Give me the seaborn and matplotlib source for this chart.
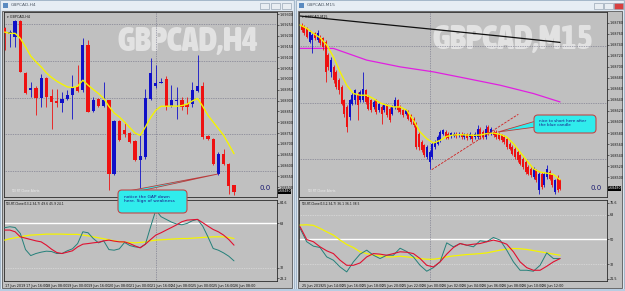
import numpy as np
import pandas as pd
import matplotlib
matplotlib.use("Agg")
import matplotlib.pyplot as plt
import seaborn as sns
from matplotlib.patches import Rectangle, FancyBboxPatch, Polygon
from matplotlib import font_manager as fm

sns.set_theme(style="white")
plt.rcParams['font.family'] = ['DejaVu Sans']

# ---------------- data ----------------
# Left window: GBPCAD H4 candles (chart points)
h4_open  = [171.7,165.7,163.3,179.3,127.3,110.0,112.7,102.7,121.7,104.0,99.0,97.3,101.0,105.0,113.3,110.0,155.0,89.3,101.7,94.0,
            100.0,26.7,79.3,70.0,67.3,59.3,40.7,43.3,101.7,114.0,117.0,121.0,94.0,99.3,100.0,96.0,96.7,109.3,114.0,64.0,
            61.3,26.7,46.0,36.7,15.0]
h4_close = [166.7,167.7,179.3,128.3,107.3,112.7,102.7,121.7,103.3,98.3,97.3,101.3,105.0,112.7,109.3,155.0,88.3,100.7,94.0,100.7,
            26.7,79.3,60.0,66.7,58.3,40.0,44.0,102.3,126.7,117.3,118.3,94.0,100.7,100.3,93.3,93.3,110.7,114.0,63.3,61.7,
            36.0,46.0,36.7,14.0,8.3]
h4_high  = [173.3,170.0,180.0,180.0,128.3,118.3,114.0,126.0,122.7,111.7,111.7,108.3,110.0,125.0,135.0,161.7,160.0,103.3,102.7,118.3,
            100.7,80.0,80.0,78.3,68.3,60.0,66.7,111.7,141.7,135.0,121.7,124.0,115.0,113.3,103.3,103.3,118.3,145.0,118.3,65.0,
            62.0,48.3,51.7,37.3,15.7]
h4_low   = [150.0,153.3,153.3,128.3,106.7,103.3,85.0,93.3,93.3,71.7,93.3,88.3,100.0,81.7,108.3,108.3,88.3,88.3,93.3,93.3,
            10.0,25.0,59.3,63.3,57.3,39.3,5.0,41.7,100.0,112.7,116.7,90.0,93.3,81.7,90.0,86.7,93.3,108.3,61.7,60.7,
            35.0,25.0,35.0,6.7,5.0]
h4_ma    = [168.0,166.7,166.7,161.7,153.3,144.0,138.3,133.3,127.3,122.7,119.0,116.0,113.3,112.7,114.0,120.0,115.0,110.7,106.7,101.7,
            94.0,87.3,83.3,78.3,72.7,67.3,65.0,73.3,82.7,90.0,94.0,94.0,94.3,94.0,94.7,96.0,99.3,101.7,94.0,85.0,
            78.3,71.7,65.0,56.0,46.7]
h4_tdi_fast = [64.4,65.2,64.6,59.7,46.6,41.7,43.4,44.5,45.3,45.0,43.4,43.4,45.6,47.2,51.5,61.1,60.3,55.6,52.1,53.7,
               46.6,46.1,47.2,52.4,49.9,48.8,48.3,51.0,65.2,78.8,73.4,71.2,69.0,67.4,66.8,67.9,70.1,71.2,65.7,57.0,
               47.5,46.1,43.9,41.2,37.4]
h4_tdi_slow = [62.5,62.5,61.1,57.0,55.9,54.8,53.7,52.9,50.2,46.9,44.2,43.4,44.5,45.6,48.8,51.0,51.5,52.1,52.6,53.7,
               54.3,53.5,52.9,52.9,51.5,49.6,48.0,51.0,54.8,58.4,60.3,62.5,64.6,66.8,69.3,70.6,70.9,71.2,68.5,65.7,
               63.0,61.1,58.4,54.8,50.2]
h4_tdi_base = [54.3,55.4,56.2,57.0,57.8,58.4,58.6,58.9,59.2,59.2,59.2,59.2,59.0,59.0,59.0,58.4,57.8,57.0,56.2,55.4,
               54.6,53.7,53.2,52.6,52.4,52.1,52.4,52.9,53.7,54.3,54.6,54.8,55.1,55.4,55.6,55.6,55.9,56.2,56.5,56.7,
               57.0,57.0,57.0,56.5,55.6]
h4_price_labels = ["1.69300","1.69250","1.69200","1.69150","1.69100","1.69050","1.69000","1.68950","1.68900",
                   "1.68850","1.68800","1.68750","1.68700","1.68650","1.68600","1.68550","1.68500"]
h4_dates = ["17 Jun 2019","17 Jun 16:00","18 Jun 08:00","19 Jun 00:00","19 Jun 16:00","20 Jun 08:00",
            "21 Jun 00:00","21 Jun 16:00","24 Jun 08:00","25 Jun 00:00","25 Jun 16:00","26 Jun 08:00"]

# Right window: GBPCAD M15 candles (chart points)
m15_open  = [175.0,173.3,171.7,158.3,160.0,166.7,160.0,163.3,161.7,158.3,145.0,128.3,133.3,128.3,120.0,113.3,100.0,93.3,83.3,96.7,
             100.0,106.7,100.0,100.0,110.0,103.3,100.0,93.3,100.0,90.0,93.3,90.0,95.0,91.7,86.7,93.3,100.0,93.3,90.0,86.7,
             88.3,85.0,81.7,76.7,66.7,58.3,55.0,43.3,38.3,43.3,53.3,56.7,60.0,66.7,68.3,66.7,64.0,64.7,66.7,65.0,
             66.7,63.3,66.0,63.3,65.0,63.3,63.3,71.7,68.3,63.3,73.3,66.7,68.3,68.3,66.7,65.0,63.3,61.7,56.7,53.3,
             51.7,48.3,45.0,41.7,38.3,33.3,31.7,23.3,30.0,10.0,26.7,15.0,23.3,28.3,25.0,8.3,23.3,20.0]
m15_close = [170.0,166.7,163.3,168.3,165.0,161.7,166.7,156.7,153.3,128.3,133.3,140.0,120.0,113.3,110.0,96.7,86.7,73.3,100.0,105.0,
             110.0,95.0,108.3,111.7,98.3,91.7,90.0,98.3,88.3,96.7,86.7,95.0,85.0,80.0,93.3,100.0,90.0,88.3,85.0,90.0,
             81.7,78.3,75.0,53.3,53.3,50.0,45.0,53.3,48.3,56.7,58.3,63.3,68.3,70.0,63.3,62.7,67.3,66.7,64.0,66.7,
             63.3,66.0,62.7,66.7,61.7,66.7,71.7,63.3,63.3,71.7,66.7,71.7,65.0,63.3,61.7,60.0,58.3,53.3,51.7,46.7,
             43.3,40.0,36.7,33.3,28.3,26.7,25.0,31.7,20.0,26.7,13.3,26.7,31.7,21.7,15.0,20.0,10.0,11.7]
m15_high  = [177.3,175.0,173.3,170.0,166.7,168.3,170.0,165.0,163.3,160.0,146.7,143.3,135.0,130.0,121.7,115.0,101.7,95.0,101.7,108.3,
             111.7,108.3,110.0,128.3,111.7,105.0,101.7,100.0,101.7,98.3,95.0,96.7,96.7,93.3,95.0,103.3,101.7,95.0,91.7,91.7,
             90.0,86.7,83.3,78.3,68.3,60.0,56.7,55.0,50.0,58.3,60.0,65.0,70.0,71.7,70.0,68.3,68.3,68.3,68.3,68.3,
             68.3,67.3,67.3,68.3,66.7,68.3,75.0,73.3,70.0,75.0,75.0,73.3,70.0,70.0,68.3,66.7,65.0,63.3,58.3,55.0,
             53.3,50.0,46.7,43.3,40.0,35.0,33.3,33.3,31.7,28.3,28.3,28.3,35.0,30.0,26.7,21.7,25.0,21.7]
m15_low   = [168.3,165.0,161.7,156.7,146.7,160.0,158.3,155.0,150.0,118.3,130.0,123.3,116.7,111.7,106.7,95.0,83.3,68.3,80.0,95.0,
             96.7,80.0,98.3,98.3,96.7,90.0,88.3,91.7,86.7,88.3,76.7,88.3,83.3,78.3,85.0,91.7,88.3,86.7,83.3,85.0,
             80.0,76.7,73.3,51.7,50.0,48.3,43.3,41.7,31.7,41.7,51.7,55.0,58.3,65.0,61.7,61.7,62.7,63.3,62.7,63.3,
             61.7,61.7,60.0,61.7,58.3,61.7,61.7,61.7,61.7,61.7,65.0,65.0,63.3,61.7,60.0,58.3,56.7,51.7,50.0,45.0,
             41.7,38.3,35.0,31.7,26.7,25.0,23.3,21.7,18.3,6.7,11.7,13.3,21.7,20.0,13.3,6.7,8.3,10.0]
# sampled every 2.5 bars
m15_ma = [175.0,171.7,166.7,162.3,155.0,143.3,128.3,115.0,106.7,105.0,105.0,101.7,97.3,95.0,93.3,93.3,90.0,80.0,68.3,61.7,
          57.3,60.0,64.0,65.3,65.7,65.3,65.0,65.3,66.7,67.3,66.0,63.3,56.7,48.3,40.0,31.7,28.3,27.3,26.0,20.7]
m15_tdi_fast = [58.0,48.3,45.1,44.1,37.3,34.9,30.0,26.4,33.7,39.3,42.2,38.5,36.1,38.5,38.5,43.6,41.2,37.3,31.2,26.9,
                29.5,33.7,47.5,44.6,47.0,45.8,44.6,49.0,48.3,51.4,49.5,42.2,33.7,27.6,27.6,26.9,31.2,40.2,36.1,36.1]
m15_tdi_slow = [59.2,49.9,48.3,44.6,41.7,39.7,34.9,31.2,31.2,32.9,37.3,39.7,39.3,38.5,39.7,41.0,40.7,39.7,36.1,31.2,
                30.0,33.7,39.3,44.1,47.0,45.8,46.5,47.0,48.3,49.5,48.3,46.5,41.0,33.7,29.5,27.6,27.6,30.5,33.7,36.1]
m15_tdi_base = [60.4,60.6,60.2,58.0,55.5,53.1,49.5,46.3,44.1,41.0,39.7,38.5,38.0,37.3,37.3,37.8,37.3,36.8,36.1,35.6,
                35.6,36.3,37.3,38.0,38.5,39.0,39.3,39.7,40.2,41.2,42.2,42.9,43.4,43.2,42.7,41.9,41.0,40.2,39.3,38.5]
m15_long_ma_x = [-0.6,24.4,49.4,74.4,96.9]
m15_long_ma   = [184.0,177.3,170.7,164.0,157.7]
m15_mid_ma_x  = [-0.6,11.9,24.4,36.9,49.4,61.9,74.4,86.9,96.9]
m15_mid_ma    = [151.7,151.7,140.0,133.3,128.3,121.7,115.0,106.7,98.3]
m15_trend_x = [48.75, 81.25]
m15_trend_y = [30.7, 86.0]
m15_price_labels = ["1.68780","1.68760","1.68740","1.68720","1.68700","1.68680","1.68660","1.68640",
                    "1.68620","1.68600","1.68580","1.68560","1.68540","1.68520","1.68500"]
m15_dates = ["25 Jun 2019","25 Jun 14:00","25 Jun 16:00","25 Jun 18:00","25 Jun 20:00","25 Jun 22:00","26 Jun 00:00",
             "26 Jun 02:00","26 Jun 04:00","26 Jun 06:00","26 Jun 08:00","26 Jun 10:00","26 Jun 12:00"]

# ---------------- style ----------------
RED, BLUE, YEL = '#ee1111', '#1010c8', '#f4f400'
TEAL, IRED = '#24807a', '#e01030'
BG = '#c0c0c0'
GRIDC = '#66667e'

W, H = 625, 291
fig = plt.figure(figsize=(6.25, 2.91), dpi=100)
fig.patch.set_facecolor('#d3dfeb')


def px_axes(x0, y0, x1, y1, z=1):
    return fig.add_axes([x0 / W, 1 - y1 / H, (x1 - x0) / W, (y1 - y0) / H], zorder=z)


def _is_bold(f):
    w = f.weight
    if isinstance(w, (int, float)):
        return w >= 700
    return str(w).lower() in ('bold', 'heavy', 'black', 'extra bold', 'ultrabold', '700', '800', '900')


def pick_condensed_bold():
    fl = fm.fontManager.ttflist
    for f in fl:
        if ('Narrow' in f.name or 'Condensed' in f.name) and _is_bold(f):
            return f.fname
    for f in fl:
        if f.name == 'DejaVu Sans' and 'condensed' in str(f.stretch) and _is_bold(f):
            return f.fname
    for f in fl:
        if f.name == 'Roboto' and _is_bold(f) and 'Italic' not in f.fname:
            return f.fname
    return None


# background frame layer
bgax = px_axes(0, 0, W, H, z=0)
bgax.set_xlim(0, W); bgax.set_ylim(H, 0); bgax.axis('off')
for (x0, x1, title) in [(0, 294, "GBPCAD,H4"), (296, 624, "GBPCAD,M15")]:
    bgax.add_patch(Rectangle((x0, 0), x1 - x0, 289, fc='#dbe5ef', ec='#9cb0c4', lw=0.6))
    bgax.add_patch(Rectangle((x0 + 1, 1), x1 - x0 - 2, 9, fc='#e6edf4', ec='none'))
    bgax.add_patch(Rectangle((x0 + 3, 3), 5, 5, fc='#5a8ac0', ec='none'))
    bgax.text(x0 + 11, 5.5, title, fontsize=3.2, color='#505a66', va='center', ha='left')
    bgax.add_patch(Rectangle((x0 + 2, 11), x1 - x0 - 4, 277, fc=BG, ec='#5a5a5a', lw=0.6))
for bx in (260, 271, 282):
    bgax.add_patch(Rectangle((bx, 2.5), 9, 6, fc='#e8edf2', ec='#8796a8', lw=0.4))
for bx, fc in ((594, '#e8edf2'), (604, '#e8edf2'), (614, '#d84040')):
    bgax.add_patch(Rectangle((bx, 2.5), 9, 6, fc=fc, ec='#8796a8', lw=0.4))
bgax.add_patch(Rectangle((0, 289), W, 2, fc='#b8cde2', ec='none'))


def candles(ax, o, c, h, l, width):
    o, c, h, l = map(np.asarray, (o, c, h, l))
    x = np.arange(len(o))
    col = np.where(c >= o, BLUE, RED)
    ax.vlines(x, l, h, colors=col, lw=0.6, zorder=3)
    ax.bar(x, np.maximum(np.abs(c - o), 0.5), bottom=np.minimum(o, c), width=width,
           color=col, linewidth=0, zorder=4)


def style_axes(ax):
    ax.set_facecolor(BG)
    for s in ax.spines.values():
        s.set_color('#2a2a2a'); s.set_linewidth(0.6)
    ax.yaxis.tick_right()
    ax.tick_params(axis='both', labelsize=2.4, length=1.2, width=0.4, pad=0.8, colors='#111111')
    ax.set_xlabel(''); ax.set_ylabel('')


def panel(x0, x1, o, c, h, l, ma, ma_x, fast, slow, base, ind_x, width, xlim, price_labels,
          price_tick0, price_step, dates, date_step, hgrid, vline, ind_lim, ind_ticks, ind_labels,
          white_level, dotted_levels, symbol, ind_name):
    main = px_axes(x0, 12, x1, 197, z=2)
    candles(main, o, c, h, l, width)
    sns.lineplot(x=ma_x, y=ma, ax=main, color=YEL, lw=1.0, zorder=5)
    main.set_xlim(*xlim); main.set_ylim(3.5, 188)
    for g in hgrid:
        main.axhline(g, color=GRIDC, lw=0.5, ls=(0, (1, 1.5)), zorder=1)
    main.axvline(vline, color=GRIDC, lw=0.5, ls=(0, (1, 1.5)), zorder=1)
    style_axes(main)
    ticks = [price_tick0 - price_step * k for k in range(len(price_labels))]
    main.set_yticks(ticks); main.set_yticklabels(price_labels)
    main.set_xticks([])
    main.text(0.01, 0.985, "\u25be " + symbol, transform=main.transAxes, fontsize=2.4,
              color='#101010', va='top', ha='left', zorder=6)

    ind = px_axes(x0, 200, x1, 281, z=2)
    df = pd.DataFrame({'x': ind_x, 'fast': fast, 'slow': slow, 'base': base})
    ind.axhline(white_level, color='white', lw=1.0, zorder=1)
    for lv in dotted_levels:
        ind.axhline(lv, color='#e8e8e8', lw=0.5, ls=(0, (1, 1.5)), zorder=1)
    ind.axvline(vline, color=GRIDC, lw=0.5, ls=(0, (1, 1.5)), zorder=1)
    sns.lineplot(data=df, x='x', y='base', ax=ind, color=YEL, lw=0.9, zorder=3)
    sns.lineplot(data=df, x='x', y='fast', ax=ind, color=TEAL, lw=0.7, zorder=4)
    sns.lineplot(data=df, x='x', y='slow', ax=ind, color=IRED, lw=0.8, zorder=5)
    ind.set_xlim(*xlim); ind.set_ylim(*ind_lim)
    style_axes(ind)
    ind.set_yticks(ind_ticks); ind.set_yticklabels(ind_labels)
    ind.set_xticks([date_step * k for k in range(len(dates))])
    ind.set_xticklabels(dates, ha='left')
    ind.text(0.005, 0.975, ind_name, transform=ind.transAxes, fontsize=2.2,
             color='#101010', va='top', ha='left')
    return main, ind


h4_x = np.arange(len(h4_open))
mainL, indL = panel(4, 277, h4_open, h4_close, h4_high, h4_low, h4_ma, h4_x,
                    h4_tdi_fast, h4_tdi_slow, h4_tdi_base, h4_x, 0.63, (-0.13, 52.25),
                    h4_price_labels, 186.0, 10.8, h4_dates, 4,
                    [176.0, 139.3, 102.7, 66.0, 29.3], 29.0, (21.0, 87.0),
                    [84.6, 68, 32, 23.2], ["84.6", "68", "32", "23.2"], 68, [32],
                    "GBPCAD,H4", "TDI-RT-Clone(13,2,34,7) 49.6 45.9 24.1")

m15_sx = np.arange(len(m15_ma)) * 2.5 - 0.6
mainR, indR = panel(299, 607, m15_open, m15_close, m15_high, m15_low, m15_ma, m15_sx,
                    m15_tdi_fast, m15_tdi_slow, m15_tdi_base, m15_sx, 0.7, (-1.0, 114.5),
                    m15_price_labels, 177.3, 11.0, m15_dates, 7.5,
                    [153.7, 97.7, 41.7], 48.1, (19.8, 78.6),
                    [76.6, 68, 50, 32, 21.5], ["76.6", "68", "50", "32", "21.5"], 50, [68, 32],
                    "GBPCAD,M15", "TDI-RT-Clone(13,2,34,7) 36.1 36.1 38.5")

sns.lineplot(x=m15_long_ma_x, y=m15_long_ma, ax=mainR, color='#101010', lw=0.9, zorder=2)
sns.lineplot(x=m15_mid_ma_x, y=m15_mid_ma, ax=mainR, color='#e020e0', lw=0.9, zorder=2)
mainR.plot(m15_trend_x, m15_trend_y, color='#d02020', lw=0.6, ls=(0, (3, 1.5)), zorder=6)
mainR.set_xlim(-1.0, 114.5)

# watermarks, fitted to the reference width
wm_font = pick_condensed_bold()
renderer = fig.canvas.get_renderer()
for ax, txt, cx, cy, target_w in ((mainL, "GBPCAD,H4", 187.5, 41.5, 141), (mainR, "GBPCAD,M15", 512.5, 39.5, 161)):
    fx = (cx - ax.get_position().x0 * W) / (ax.get_position().width * W)
    fy = 1 - (cy - (1 - ax.get_position().y1) * H) / (ax.get_position().height * H)
    if wm_font:
        fp = fm.FontProperties(fname=wm_font, size=22)
    else:
        fp = fm.FontProperties(family='DejaVu Sans', weight='bold', size=22)
    t = ax.text(fx, fy, txt, transform=ax.transAxes, fontproperties=fp, color='#e2e2e2',
                ha='center', va='center', zorder=0.5)
    wpx = t.get_window_extent(renderer).width
    t.set_fontsize(22 * target_w / wpx)
    ax.text(0.025, 0.035, "TDI RT Clone Alerts", transform=ax.transAxes, fontsize=2.2,
            color='#ececec', ha='left', va='center', zorder=6)

# overlay layer: callouts, labels
top = px_axes(0, 0, W, H, z=10)
top.set_xlim(0, W); top.set_ylim(H, 0); top.axis('off'); top.patch.set_alpha(0)
top.text(265, 188, "0.0", fontsize=5, color='#1a1a70', ha='center', va='center')
top.text(596, 188, "0.0", fontsize=5, color='#1a1a70', ha='center', va='center')
top.add_patch(Rectangle((277.5, 189), 13.5, 4.5, fc='black', ec='none'))
top.text(284, 191.3, "1.68480", fontsize=2.3, color='white', ha='center', va='center')
top.add_patch(Rectangle((607.5, 186), 13.5, 4.5, fc='black', ec='none'))
top.text(614, 188.3, "1.68480", fontsize=2.3, color='white', ha='center', va='center')

top.add_patch(Polygon([(128, 191), (140, 191), (218, 174)], closed=True, fc='#30ecec', ec='#c03838', lw=0.6))
top.add_patch(FancyBboxPatch((118, 190), 69, 23, boxstyle='round,pad=0,rounding_size=4',
                             fc='#30ecec', ec='#c04848', lw=0.8))
top.text(124, 195, "notice the GAP down\nhere. Sign of weakness", fontsize=3.2, color='#1a1a8a',
         ha='left', va='top', linespacing=1.1)

top.add_patch(Polygon([(536, 121), (536, 127), (498, 132)], closed=True, fc='#30ecec', ec='#c03838', lw=0.6))
top.add_patch(FancyBboxPatch((534, 115), 62, 18, boxstyle='round,pad=0,rounding_size=4',
                             fc='#30ecec', ec='#c04848', lw=0.8))
top.text(539, 119, "nice to short here after\nthe blue candle", fontsize=3.0, color='#1a1a8a',
         ha='left', va='top', linespacing=1.1)

fig.savefig("out.png", dpi=100, facecolor=fig.get_facecolor())
